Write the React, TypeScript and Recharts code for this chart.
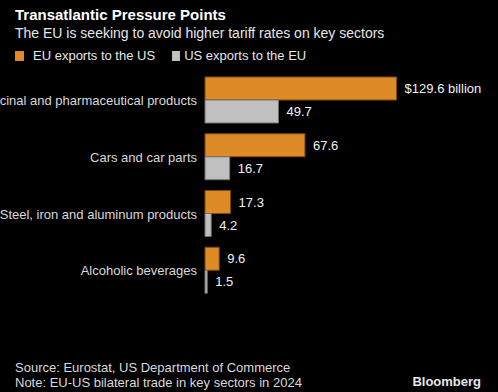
import { BarChart, Bar, XAxis, YAxis, LabelList } from "recharts"

const categories = [
  "Medicinal and pharmaceutical products",
  "Cars and car parts",
  "Steel, iron and aluminum products",
  "Alcoholic beverages",
]
const euToUs = [129.6, 67.6, 17.3, 9.6]
const usToEu = [49.7, 16.7, 4.2, 1.5]

const ORANGE = "#de8a26"
const GREY = "#c0c0c0"
const FONT = "'Liberation Sans', Arial, sans-serif"

const data = categories.map((name, i) => ({ name, eu: euToUs[i], us: usToEu[i] }))

const ValueLabel = (props: any) => {
  const { x, y, width, height, value, index, unit } = props
  const text = unit && index === 0 ? `$${value} billion` : String(value)
  return (
    <text
      x={x + width + 8}
      y={y + height / 2}
      dy="0.36em"
      fill="#f2f2f2"
      fontSize={13}
      fontFamily={FONT}
    >
      {text}
    </text>
  )
}

// single-line tick, long names run off the left edge like the original
const CategoryTick = ({ x, y, payload }: any) => (
  <text
    x={x}
    y={y}
    dy="0.36em"
    textAnchor="end"
    fill="#d9d9d9"
    fontSize={13}
    fontFamily={FONT}
  >
    {payload.value}
  </text>
)

export default function App() {
  return (
    <div
      style={{
        position: "absolute",
        left: 0,
        top: 0,
        width: 498,
        height: 392,
        background: "#000",
        overflow: "hidden",
        fontFamily: FONT,
        color: "#e6e6e6",
      }}
    >
      <div style={{ position: "absolute", left: 15, top: 6, fontSize: 15, fontWeight: "bold", color: "#fff" }}>
        Transatlantic Pressure Points
      </div>
      <div style={{ position: "absolute", left: 15, top: 25, fontSize: 14, color: "#e6e6e6" }}>
        The EU is seeking to avoid higher tariff rates on key sectors
      </div>
      <div style={{ position: "absolute", left: 15, top: 48, fontSize: 13, display: "flex", alignItems: "center" }}>
        <span style={{ width: 9, height: 10, background: ORANGE, marginRight: 9 }} />
        <span>EU exports to the US</span>
        <span style={{ width: 8, height: 10, background: GREY, marginLeft: 17, marginRight: 4 }} />
        <span>US exports to the EU</span>
      </div>

      <div style={{ position: "absolute", left: 0, top: 0 }}>
        <BarChart
          width={498}
          height={300}
          data={data}
          layout="vertical"
          margin={{ top: 72, right: 86, bottom: 1, left: 0 }}
          barGap={0}
          barSize={23}
          style={{ overflow: "visible" }}
        >
          <XAxis type="number" domain={[0, 140]} hide />
          <YAxis
            type="category"
            dataKey="name"
            width={205}
            tickLine={false}
            axisLine={false}
            tick={<CategoryTick />}
            interval={0}
          />
          <Bar dataKey="eu" fill={ORANGE} stroke="#7a4a10" strokeWidth={1} isAnimationActive={false}>
            <LabelList dataKey="eu" content={(p: any) => <ValueLabel {...p} unit />} />
          </Bar>
          <Bar dataKey="us" fill={GREY} stroke="#707070" strokeWidth={1} isAnimationActive={false}>
            <LabelList dataKey="us" content={(p: any) => <ValueLabel {...p} />} />
          </Bar>
        </BarChart>
      </div>

      <div style={{ position: "absolute", left: 15, top: 360, fontSize: 13, lineHeight: "15px", color: "#d9d9d9" }}>
        Source: Eurostat, US Department of Commerce
        <br />
        Note: EU-US bilateral trade in key sectors in 2024
      </div>
      <div style={{ position: "absolute", right: 17, top: 374, fontSize: 13, fontWeight: "bold", color: "#e6e6e6" }}>
        Bloomberg
      </div>
    </div>
  )
}
